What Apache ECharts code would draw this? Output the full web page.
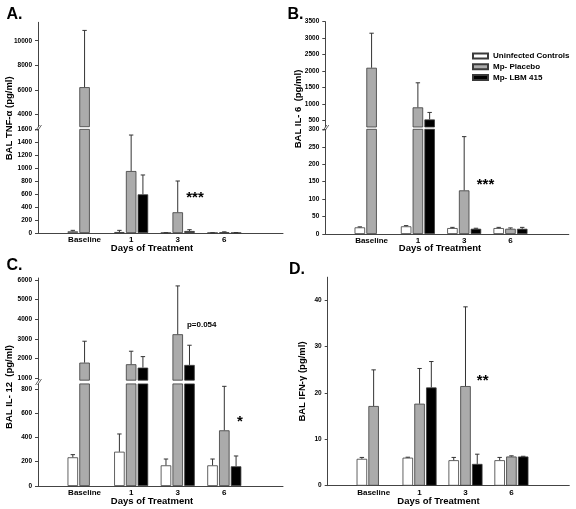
<!DOCTYPE html>
<html><head><meta charset="utf-8">
<script src="https://cdn.jsdelivr.net/npm/echarts@6/dist/echarts.min.js"></script>
<style>html,body{margin:0;padding:0;background:#fff}#c{width:576px;height:509px}</style>
</head><body><div id="c"></div>
<script>
// ---------------- DATA ----------------
const categories = ['Baseline', '1', '3', '6'];
const seriesNames = ['Uninfected Controls', 'Mp- Placebo', 'Mp- LBM 415'];

// A. BAL TNF-alpha (pg/ml): means and SD (upward error)
const tnfControls   = [26, 15, 3, 3];
const tnfControlsSD = [15, 26, 2, 2];
const tnfPlacebo    = [6220, 957, 320, 12];
const tnfPlaceboSD  = [4620, 556, 483, 6];
const tnfLBM        = [null, 597, 31, 4];
const tnfLBMSD      = [null, 299, 20, 3];
const tnfLowerTicks = [0, 200, 400, 600, 800, 1000, 1200, 1400, 1600];
const tnfUpperTicks = [4000, 6000, 8000, 10000];

// B. BAL IL-6 (pg/ml)
const il6Controls   = [19, 22, 17, 17];
const il6ControlsSD = [1.5, 2, 2, 2];
const il6Placebo    = [2100, 897, 125, 15];
const il6PlaceboSD  = [1050, 746, 154, 2.5];
const il6LBM        = [null, 530, 15, 15];
const il6LBMSD      = [null, 213, 1.5, 4];
const il6LowerTicks = [0, 50, 100, 150, 200, 250, 300];
const il6UpperTicks = [500, 1000, 1500, 2000, 2500, 3000, 3500];

// C. BAL IL-12 (pg/ml)
const il12Controls   = [236, 282, 170, 170];
const il12ControlsSD = [22, 146, 52, 52];
const il12Placebo    = [1794, 1712, 3239, 458];
const il12PlaceboSD  = [1089, 662, 2458, 362];
const il12LBM        = [null, 1540, 1677, 162];
const il12LBMSD      = [null, 560, 1002, 85];
const il12LowerTicks = [0, 200, 400, 600, 800];
const il12UpperTicks = [1000, 2000, 3000, 4000, 5000, 6000];

// D. BAL IFN-gamma (pg/ml)
const ifnControls   = [5.8, 6.05, 5.5, 5.5];
const ifnControlsSD = [0.3, 0.1, 0.6, 0.6];
const ifnPlacebo    = [17.2, 17.7, 21.5, 6.3];
const ifnPlaceboSD  = [7.8, 7.6, 17.1, 0.15];
const ifnLBM        = [null, 21.2, 4.7, 6.3];
const ifnLBMSD      = [null, 5.6, 2.1, 0.05];
const ifnTicks      = [0, 10, 20, 30, 40];

// ---------------- STYLE / LAYOUT ----------------
const FONT = 'Liberation Sans, Arial, sans-serif';
const FILLS = ['#ffffff', '#ababab', '#000000'];
const BORDER = '#3a3a3a';
const AXIS = '#444444';
const BAR_W = 10.5;
const GAP = 0.12;
const X_MAX = 5.26;

const panels = [
  { groups: [[tnfControls, tnfControlsSD], [tnfPlacebo, tnfPlaceboSD], [tnfLBM, tnfLBMSD]],
    left: 38, width: 245,
    segs: [
      { min: 0, max: 1600, ticks: tnfLowerTicks, top: 129.4, height: 103.6, lower: true },
      { min: 3000, max: 11500, ticks: tnfUpperTicks, top: 22.3, height: 104.4, lower: false }
    ] },
  { groups: [[il6Controls, il6ControlsSD], [il6Placebo, il6PlaceboSD], [il6LBM, il6LBMSD]],
    left: 325.3, width: 243.5,
    segs: [
      { min: 0, max: 300, ticks: il6LowerTicks, top: 129.3, height: 104.7, lower: true },
      { min: 300, max: 3500, ticks: il6UpperTicks, top: 21.7, height: 105.3, lower: false }
    ] },
  { groups: [[il12Controls, il12ControlsSD], [il12Placebo, il12PlaceboSD], [il12LBM, il12LBMSD]],
    left: 38, width: 245,
    segs: [
      { min: 0, max: 840, ticks: il12LowerTicks, top: 383.9, height: 102.1, lower: true },
      { min: 900, max: 6100, ticks: il12UpperTicks, top: 278, height: 102.2, lower: false }
    ] },
  { groups: [[ifnControls, ifnControlsSD], [ifnPlacebo, ifnPlaceboSD], [ifnLBM, ifnLBMSD]],
    left: 327.7, width: 241.6,
    segs: [
      { min: 0, max: 45, ticks: ifnTicks, top: 277.2, height: 208.5, lower: true }
    ] }
];

const grid = [], xAxis = [], yAxis = [], series = [];

function errRenderer(k) {
  return function (params, api) {
    const x = api.value(0), v = api.value(1), sd = api.value(2);
    if (isNaN(v) || isNaN(sd)) return;
    const base = api.coord([x, v]);
    const top = api.coord([x, v + sd]);
    const cs = params.coordSys;
    const px = base[0] + (k - 1) * (BAR_W * (1 + GAP));
    const y1 = Math.min(base[1], cs.y + cs.height);
    const y2 = Math.max(top[1], cs.y);
    if (y2 >= y1) return;
    const st = { stroke: '#333', lineWidth: 1 };
    const children = [{ type: 'line', shape: { x1: px, y1: y1, x2: px, y2: y2 }, style: st }];
    if (top[1] >= cs.y - 0.5 && top[1] <= cs.y + cs.height) {
      children.push({ type: 'line', shape: { x1: px - 2.2, y1: top[1], x2: px + 2.2, y2: top[1] }, style: st });
    }
    return { type: 'group', children: children };
  };
}

panels.forEach(p => {
  p.segs.forEach(s => {
    const gi = grid.length;
    grid.push({ left: p.left, width: p.width, top: s.top, height: s.height, containLabel: false });
    xAxis.push({
      gridIndex: gi, type: 'value', min: 0, max: X_MAX, show: s.lower,
      splitLine: { show: false },
      axisLine: { show: true, onZero: false, lineStyle: { color: AXIS, width: 1 } },
      axisTick: { show: false },
      axisLabel: {
        customValues: categories.map((c, i) => i + 1),
        formatter: v => categories[Math.round(v) - 1] || '',
        fontFamily: FONT, fontSize: 8, fontWeight: 'bold', color: '#000', margin: 3
      }
    });
    yAxis.push({
      gridIndex: gi, type: 'value', min: s.min, max: s.max,
      splitLine: { show: false },
      axisLine: { show: true, lineStyle: { color: AXIS, width: 1 } },
      axisTick: { show: true, length: 3, customValues: s.ticks, lineStyle: { color: AXIS } },
      axisLabel: { customValues: s.ticks, formatter: v => String(v),
        fontFamily: FONT, fontSize: 6.5, fontWeight: 'bold', color: '#000', margin: 6 }
    });
    p.groups.forEach((g, k) => {
      const vals = g[0];
      series.push({
        type: 'bar', name: seriesNames[k], xAxisIndex: gi, yAxisIndex: gi,
        barWidth: BAR_W, barGap: (GAP * 100) + '%',
        itemStyle: { color: FILLS[k], borderColor: BORDER, borderWidth: 0.8 },
        data: vals.map((v, i) => [i + 1, (v == null || (!s.lower && v <= s.min)) ? '-' : v]),
        z: 2
      });
    });
    p.groups.forEach((g, k) => {
      const vals = g[0], sds = g[1];
      series.push({
        type: 'custom', xAxisIndex: gi, yAxisIndex: gi, z: 3,
        renderItem: errRenderer(k),
        encode: { x: 0, y: 1 },
        data: vals.map((v, i) => [i + 1, v == null ? '-' : v, sds[i] == null ? '-' : sds[i]])
      });
    });
  });
});

function txt(x, y, text, size, opts) {
  opts = opts || {};
  return {
    type: 'text', x: x, y: y, rotation: opts.rot || 0, z: 10,
    style: { text: text, fontFamily: FONT, fontSize: size, fontWeight: 'bold', fill: '#000',
      align: opts.align || 'center', verticalAlign: opts.va || 'middle' }
  };
}
function brk(x, y) {
  const st = { stroke: AXIS, lineWidth: 0.8 };
  return [
    { type: 'line', z: 10, shape: { x1: x - 3, y1: y + 3, x2: x + 1, y2: y - 3 }, style: st },
    { type: 'line', z: 10, shape: { x1: x - 1, y1: y + 3, x2: x + 3, y2: y - 3 }, style: st }
  ];
}

const graphic = [
  txt(6.5, 14.5, 'A.', 16, { align: 'left' }),
  txt(287.5, 14.8, 'B.', 16, { align: 'left' }),
  txt(6.5, 265.5, 'C.', 16, { align: 'left' }),
  txt(289, 269.2, 'D.', 16, { align: 'left' }),
  txt(9.5, 118.3, 'BAL TNF-α (pg/ml)', 9.5, { rot: Math.PI / 2 }),
  txt(298.8, 109, 'BAL IL- 6  (pg/ml)', 9.5, { rot: Math.PI / 2 }),
  txt(9.5, 387, 'BAL IL- 12  (pg/ml)', 9.5, { rot: Math.PI / 2 }),
  txt(302, 381.5, 'BAL IFN-γ (pg/ml)', 9.5, { rot: Math.PI / 2 }),
  txt(152, 248.5, 'Days of Treatment', 9.5),
  txt(440, 248.5, 'Days of Treatment', 9.5),
  txt(152, 501.7, 'Days of Treatment', 9.5),
  txt(438.5, 501.7, 'Days of Treatment', 9.5),
  txt(195, 197.5, '***', 15),
  txt(485.5, 185, '***', 15),
  txt(201.7, 325, 'p=0.054', 8),
  txt(240, 422, '*', 15),
  txt(482.7, 381, '**', 15)
].concat(brk(38.5, 128), brk(325.8, 128), brk(38.5, 382));

const option = {
  animation: false,
  backgroundColor: '#fff',
  grid: grid, xAxis: xAxis, yAxis: yAxis, series: series, graphic: graphic,
  legend: {
    data: seriesNames, orient: 'vertical', left: 467, top: 47,
    itemWidth: 15, itemHeight: 5, itemGap: 2.7, icon: 'rect',
    textStyle: { fontFamily: FONT, fontSize: 8, fontWeight: 'bold', color: '#000', lineHeight: 8 }
  }
};
const chart = echarts.init(document.getElementById('c'), null, { renderer: 'canvas' });
chart.setOption(option);
</script>
</body></html>
